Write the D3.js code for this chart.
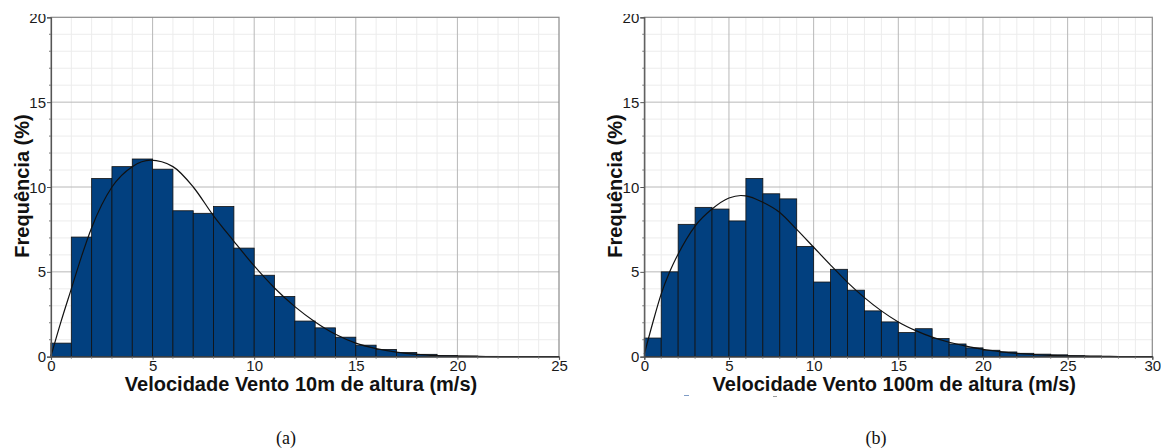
<!DOCTYPE html>
<html>
<head>
<meta charset="utf-8">
<script src="https://cdn.jsdelivr.net/npm/d3@7"></script>
<style>
  html, body { margin: 0; padding: 0; background: #fff; }
  svg { display: block; }
</style>
</head>
<body>
<svg id="chart" width="1161" height="448" font-family="'Liberation Sans', Arial, sans-serif"></svg>
<script>
// Histogram bins are 1 m/s wide, starting at 0.
// Panel (a): wind speed at 10 m height — frequency (%) per bin
const freq10 = [0.8, 7.05, 10.5, 11.2, 11.65, 11.05, 8.6, 8.45, 8.85, 6.4,
                4.8, 3.55, 2.1, 1.7, 1.15, 0.68, 0.43, 0.25, 0.14, 0.07,
                0.04, 0.02, 0.01, 0, 0];
// Fitted density curve for (a), sampled at whole m/s
const fitX10 = [0, 0.5, 1, 1.5, 2, 3, 4, 4.9, 6, 7, 8, 9, 10, 11, 12, 13, 14, 15, 16, 17, 18, 19, 20, 21, 22, 23, 24, 25];
const fitY10 = [0.05, 2.1, 4.0, 5.9, 7.6, 10.0, 11.2, 11.58, 11.2, 10.0, 8.3, 6.8, 5.35, 4.05, 2.95, 2.05, 1.32, 0.8, 0.48, 0.27, 0.14, 0.07, 0.035, 0.015, 0.007, 0.003, 0.001, 0];

// Panel (b): wind speed at 100 m height — frequency (%) per bin
const freq100 = [1.1, 5.0, 7.8, 8.8, 8.7, 8.0, 10.5, 9.6, 9.3, 6.5,
                 4.4, 5.15, 3.92, 2.7, 2.05, 1.42, 1.65, 1.07, 0.75, 0.52,
                 0.38, 0.28, 0.2, 0.15, 0.11, 0.06, 0.04, 0.02, 0.01, 0.01];
// Fitted density curve for (b)
const fitX100 = [0, 0.5, 1, 1.5, 2, 3, 4, 5, 5.7, 6, 7, 8, 9, 10, 11, 12, 13, 14, 15, 16, 17, 18, 19, 20, 21, 22, 23, 24, 25, 26, 27, 28, 29, 30];
const fitY100 = [0.15, 2.0, 3.7, 5.0, 6.05, 7.7, 8.7, 9.35, 9.5, 9.48, 9.1, 8.5, 7.5, 6.45, 5.4, 4.38, 3.48, 2.7, 2.05, 1.55, 1.15, 0.85, 0.62, 0.43, 0.3, 0.2, 0.13, 0.08, 0.05, 0.03, 0.02, 0.01, 0.005, 0];

const yMax = 20;
const xMax10 = 25, xMax100 = 30;
const xTitle10 = "Velocidade Vento 10m de altura (m/s)";
const xTitle100 = "Velocidade Vento 100m de altura (m/s)";
const yTitle = "Frequência (%)";
const captions = ["(a)", "(b)"];

const sans = "'Liberation Sans', Arial, sans-serif";
const serif = "'Liberation Serif', 'Times New Roman', serif";

const svg = d3.select("#chart");

// the figure is trimmed just above the top tick label
svg.append("defs").append("clipPath").attr("id", "page")
  .append("rect").attr("x", 0).attr("y", 14).attr("width", 1161).attr("height", 434);
const root = svg.append("g").attr("clip-path", "url(#page)");

const barFill = "#02407f";

function panel(cfg) {
  const g = root.append("g");
  const x = d3.scaleLinear().domain([0, cfg.xMax]).range([cfg.left, cfg.right]);
  const y = d3.scaleLinear().domain([0, yMax]).range([356.7, 17.3]);

  // minor grid (every unit)
  const minorX = d3.range(1, cfg.xMax).filter(v => v % 5 !== 0);
  const minorY = d3.range(1, yMax).filter(v => v % 5 !== 0);
  g.append("g").selectAll("line").data(minorX).join("line")
    .attr("x1", d => x(d)).attr("x2", d => x(d))
    .attr("y1", y(0)).attr("y2", y(yMax))
    .attr("stroke", "#ececec").attr("stroke-width", 1);
  g.append("g").selectAll("line").data(minorY).join("line")
    .attr("x1", x(0)).attr("x2", x(cfg.xMax))
    .attr("y1", d => y(d)).attr("y2", d => y(d))
    .attr("stroke", "#ececec").attr("stroke-width", 1);

  // major grid (every 5)
  const majorX = d3.range(5, cfg.xMax, 5);
  const majorY = d3.range(5, yMax, 5);
  g.append("g").selectAll("line").data(majorX).join("line")
    .attr("x1", d => x(d)).attr("x2", d => x(d))
    .attr("y1", y(0)).attr("y2", y(yMax))
    .attr("stroke", "#b8b8b8").attr("stroke-width", 1);
  g.append("g").selectAll("line").data(majorY).join("line")
    .attr("x1", x(0)).attr("x2", x(cfg.xMax))
    .attr("y1", d => y(d)).attr("y2", d => y(d))
    .attr("stroke", "#b8b8b8").attr("stroke-width", 1);

  // frame
  g.append("rect")
    .attr("x", x(0)).attr("y", y(yMax))
    .attr("width", x(cfg.xMax) - x(0)).attr("height", y(0) - y(yMax))
    .attr("fill", "none").attr("stroke", "#8a8a8a").attr("stroke-width", 1.2);

  // histogram bars
  g.append("g").selectAll("rect").data(cfg.freq).join("rect")
    .attr("x", (d, i) => x(i)).attr("width", (d, i) => x(i + 1) - x(i))
    .attr("y", d => y(d)).attr("height", d => y(0) - y(d))
    .attr("fill", barFill).attr("stroke", "#111").attr("stroke-width", 0.8);

  // fitted curve
  const line = d3.line().x(d => x(d[0])).y(d => y(d[1])).curve(d3.curveMonotoneX);
  g.append("path").datum(d3.zip(cfg.fitX, cfg.fitY))
    .attr("d", line).attr("fill", "none")
    .attr("stroke", "#111").attr("stroke-width", 1.2);

  // axes
  const axX = g.append("g").attr("transform", `translate(0,${y(0)})`)
    .call(d3.axisBottom(x).tickValues(d3.range(0, cfg.xMax + 1, 5)).tickSize(3).tickPadding(1));
  const axY = g.append("g").attr("transform", `translate(${x(0)},0)`)
    .call(d3.axisLeft(y).tickValues(d3.range(0, yMax + 1, 5)).tickSize(4).tickPadding(1));
  [axX, axY].forEach(a => {
    a.attr("font-family", sans);
    a.select(".domain").attr("stroke", "#555").attr("stroke-width", 1.2);
    a.selectAll(".tick line").attr("stroke", "#555");
    a.selectAll(".tick text").attr("font-size", 15).attr("fill", "#1a1a1a");
  });
  axY.selectAll(".tick text").attr("dy", "0.34em");

  // minor ticks
  g.append("g").selectAll("line").data(minorY).join("line")
    .attr("x1", x(0) - 2).attr("x2", x(0))
    .attr("y1", d => y(d)).attr("y2", d => y(d)).attr("stroke", "#777");
  g.append("g").selectAll("line").data(minorX).join("line")
    .attr("x1", d => x(d)).attr("x2", d => x(d))
    .attr("y1", y(0)).attr("y2", y(0) + 2).attr("stroke", "#777");

  // axis titles
  g.append("text")
    .attr("x", (cfg.left + cfg.right) / 2 - 4).attr("y", 391)
    .attr("text-anchor", "middle").attr("font-size", 20).attr("font-weight", "bold")
    .attr("font-family", sans).attr("fill", "#111").text(cfg.xTitle);
  g.append("text")
    .attr("transform", `translate(${cfg.left - 22},186) rotate(-90)`)
    .attr("text-anchor", "middle").attr("font-size", 20).attr("font-weight", "bold")
    .attr("font-family", sans).attr("fill", "#111").text(yTitle);

  // caption
  g.append("text")
    .attr("x", cfg.capX).attr("y", 444)
    .attr("text-anchor", "middle").attr("font-size", 18)
    .attr("font-family", serif)
    .attr("fill", "#111").text(cfg.caption);
}

panel({ left: 51, right: 559, xMax: xMax10, freq: freq10, fitX: fitX10, fitY: fitY10,
        xTitle: xTitle10, caption: captions[0], capX: 286 });
panel({ left: 644.3, right: 1152.3, xMax: xMax100, freq: freq100, fitX: fitX100, fitY: fitY100,
        xTitle: xTitle100, caption: captions[1], capX: 876 });

// small stray marks beneath the right-hand axis title
root.append("line").attr("x1", 684).attr("x2", 689).attr("y1", 395.5).attr("y2", 395.5)
  .attr("stroke", "#7f9cc6").attr("stroke-width", 1);
root.append("line").attr("x1", 773).attr("x2", 777).attr("y1", 396.5).attr("y2", 396.5)
  .attr("stroke", "#9a9a9a").attr("stroke-width", 1);
</script>
</body>
</html>
